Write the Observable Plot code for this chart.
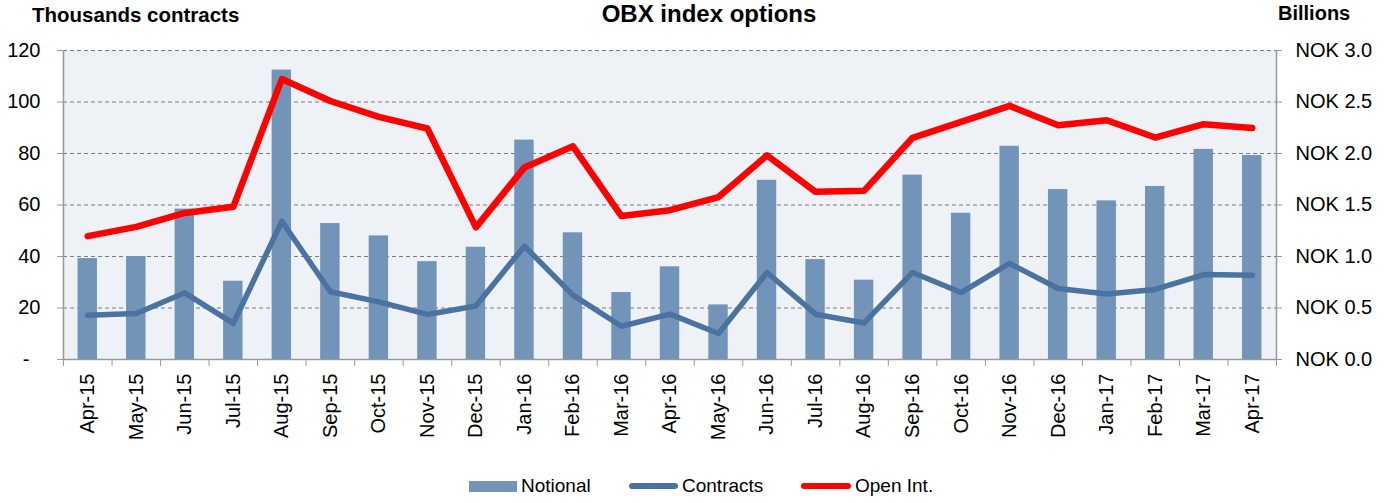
<!DOCTYPE html>
<html>
<head>
<meta charset="utf-8">
<script src="https://cdn.jsdelivr.net/npm/d3@7"></script>
<script src="https://cdn.jsdelivr.net/npm/@observablehq/plot@0.6"></script>
<style>
  html, body { margin: 0; padding: 0; background: #fff; }
  body { font-family: "Liberation Sans", Arial, sans-serif; }
  #wrap { position: relative; width: 1392px; height: 503px; overflow: hidden; }
  .t { position: absolute; font-weight: bold; font-size: 20px; white-space: nowrap; line-height: 1; color: #000; }
  #legend { position: absolute; left: 0; top: 476px; width: 1392px; height: 22px; font-size: 19px; color: #000; }
  .li { position: absolute; top: 0; display: flex; align-items: center; height: 20px; white-space: nowrap; }
  .sw { display: inline-block; margin-right: 4px; }
</style>
</head>
<body>
<div id="wrap">
  <div id="chart"></div>
  <div class="t" style="left:32px; top:5px; font-size:20.5px;">Thousands contracts</div>
  <div class="t" style="left:1278px; top:3px;">Billions</div>
  <div class="t" style="left:709px; top:2px; font-size:24px; transform:translateX(-50%);">OBX index options</div>
  <div id="legend"></div>
</div>
<script>
const months = ["Apr-15","May-15","Jun-15","Jul-15","Aug-15","Sep-15","Oct-15","Nov-15","Dec-15",
  "Jan-16","Feb-16","Mar-16","Apr-16","May-16","Jun-16","Jul-16","Aug-16","Sep-16","Oct-16","Nov-16",
  "Dec-16","Jan-17","Feb-17","Mar-17","Apr-17"];
// Notional, NOK billions (right axis)
const notional = [0.98,1.00,1.46,0.76,2.81,1.32,1.20,0.95,1.09,2.13,1.23,0.65,0.90,0.53,1.74,0.97,0.77,1.79,1.42,2.07,1.65,1.54,1.68,2.04,1.98];
// Contracts, thousands (left axis)
const contracts = [17.2,17.9,25.9,14.0,53.7,26.3,22.4,17.5,20.8,44.0,25.0,12.9,17.6,10.1,33.8,17.6,14.2,33.8,26.0,37.3,27.6,25.4,27.2,33.0,32.7];
// Open interest, thousands (left axis)
const openInt = [47.9,51.5,56.9,59.3,108.9,100.4,94.2,89.7,51.3,74.6,82.8,55.7,58.0,63.1,79.3,65.1,65.5,86.1,92.3,98.5,91.0,92.9,86.2,91.4,89.9];
const leftTicks = [0,20,40,60,80,100,120];
const rightTicks = [0.0,0.5,1.0,1.5,2.0,2.5,3.0];
const seriesNames = ["Notional","Contracts","Open Int."];
const colors = {bar: "#7294b8", contracts: "#4a73a1", openInt: "#ff0000"};
const ratio = 40; // 120 thousand contracts <-> NOK 3.0 bn

const data = months.map((m, i) => ({i, m, notional: notional[i], contracts: contracts[i], openInt: openInt[i]}));
const barHalf = 0.2;

const chart = Plot.plot({
  width: 1392,
  height: 503,
  marginTop: 50,
  marginBottom: 144,
  marginLeft: 63,
  marginRight: 116,
  style: {fontFamily: "'Liberation Sans', Arial, sans-serif", fontSize: "20px", color: "#000", background: "transparent"},
  x: {type: "linear", domain: [-0.5, months.length - 0.5]},
  y: {domain: [0, 120]},
  marks: [
    Plot.frame({fill: "#eef2f6", stroke: null}),
    Plot.gridY(leftTicks.slice(1), {stroke: "#7a7a7a", strokeOpacity: 1, strokeDasharray: "4,3", strokeWidth: 1}),
    Plot.rectY(data, {x1: d => d.i - barHalf, x2: d => d.i + barHalf, y: d => d.notional * ratio, fill: colors.bar}),
    Plot.ruleX([-0.5, months.length - 0.5], {stroke: "#999", strokeWidth: 1.5}),
    Plot.ruleY([0], {stroke: "#999", strokeWidth: 1.5}),
    Plot.line(data, {x: "i", y: "contracts", stroke: colors.contracts, strokeWidth: 5.5, strokeLinejoin: "round", strokeLinecap: "round"}),
    Plot.line(data, {x: "i", y: "openInt", stroke: colors.openInt, strokeWidth: 6.5, strokeLinejoin: "round", strokeLinecap: "round"}),
    Plot.axisY({anchor: "left", ticks: leftTicks, tickSize: 6, tickPadding: 17, stroke: "#999", label: null,
      tickFormat: d => d === 0 ? "-\u00a0\u00a0" : String(d)}),
    Plot.axisY({anchor: "right", ticks: rightTicks.map(v => v * ratio), tickSize: 5, tickPadding: 14, stroke: "#999", label: null,
      tickFormat: d => "NOK " + (d / ratio).toFixed(1)}),
    Plot.axisX({ticks: d3.range(months.length + 1).map(i => i - 0.5), tickSize: 7, text: null, stroke: "#999", label: null}),
    Plot.axisX({ticks: d3.range(months.length), tickSize: 0, tickPadding: 14, tickRotate: -90, label: null,
      tickFormat: i => months[i]})
  ]
});
document.getElementById("chart").appendChild(chart);

// legend
const legend = document.getElementById("legend");
const items = [
  {name: seriesNames[0], left: 469, sw: `<span class="sw" style="width:48px;height:11px;background:${colors.bar}"></span>`},
  {name: seriesNames[1], left: 629, sw: `<span class="sw" style="width:49px;height:6px;border-radius:3px;background:${colors.contracts}"></span>`},
  {name: seriesNames[2], left: 801, sw: `<span class="sw" style="width:50px;height:6px;border-radius:3px;background:${colors.openInt}"></span>`}
];
for (const it of items) {
  const d = document.createElement("div");
  d.className = "li";
  d.style.left = it.left + "px";
  d.innerHTML = it.sw + `<span>${it.name}</span>`;
  legend.appendChild(d);
}
</script>
</body>
</html>
